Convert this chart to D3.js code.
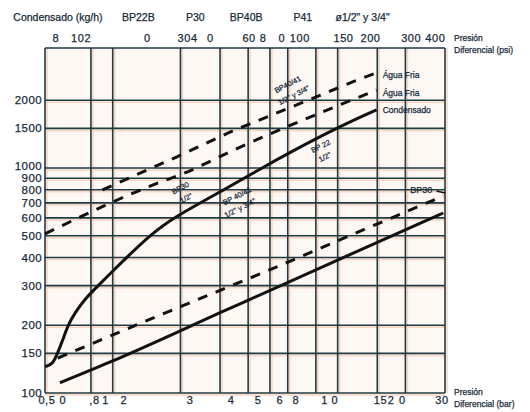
<!DOCTYPE html>
<html>
<head>
<meta charset="utf-8">
<script src="https://cdn.jsdelivr.net/npm/d3@7"></script>
<style>
  body { margin: 0; background: #fff; }
  text { font-family: "Liberation Sans", Arial, sans-serif; fill: #172a38; stroke: #172a38; stroke-width: 0.25px; }
</style>
</head>
<body>
<div id="chart"></div>
<script>
// grid values
var barLines = [0.5, 0.8, 1, 2, 3, 4, 5, 6, 8, 10, 15, 20, 30];
var kgLines = [100, 150, 200, 300, 400, 500, 600, 700, 800, 900, 1000, 1500, 2000];
var kgLabels = ["100", "150", "200", "300", "400", "500", "600", "700", "800", "900", "1000", "1500", "2000"];

// bottom (bar) tick labels as printed, with where they sit in bar
var barTickText = ["0,5", "0", ",8", "1", "2", "3", "4", "5", "6", "8", "1 0", "15", "2", "0", "30"];
var barTickAt = [0.51, 0.6, 0.83, 0.93, 1.12, 2.21, 3.36, 4.43, 5.54, 6.52, 9.22, 15.5, 17.3, 19.4, 29.1];

// top (psi) tick labels as printed, with where they sit in psi
var psiTickText = ["8", "102", "0", "304", "0", "60", "8", "0", "100", "150", "200", "300", "400"];
var psiTickAt = [8.1, 10.5, 20.7, 31.2, 39.4, 58.6, 67.6, 82, 98.5, 154, 203, 308, 394];

var headText = ["Condensado (kg/h)", "BP22B", "P30", "BP40B", "P41", "\u00f81/2\" y 3/4\""];
var headAt = [0.571, 1.30, 2.33, 3.92, 7.0, 12.9];

// series: [bar, kg/h]
var condensado = [[0.5, 131], [0.54, 134], [0.565, 148], [0.6, 172], [0.632, 200], [0.679, 227],
  [0.752, 262], [0.876, 305], [1.0, 348], [1.153, 400], [1.458, 500], [1.843, 600], [3.29, 823],
  [4.6, 1000], [6.07, 1166], [10.1, 1523], [14.9, 1814]];
var aguaFria1 = [[0.9, 800], [1.49, 1000], [1.92, 1119], [3.57, 1488], [4.38, 1617], [7.98, 2066],
  [11.65, 2412], [14.9, 2649]];
var aguaFria2 = [[0.5, 510], [1.63, 866], [2.04, 941], [3.47, 1205], [14.9, 2221]];
var bp30Agua = [[0.57, 143], [2.04, 244], [4.6, 341], [10.4, 483], [29.5, 751]];
var bp30Cond = [[0.583, 111], [0.97, 137], [3.2, 234], [11.2, 410], [29.5, 631]];

// rotated notes on the curves: text, bar, kg/h
var notes = [
  ["BP40/41", 6.0, 2353], ["1/2\" y 3/4\"", 6.38, 2108],
  ["BP 22", 8.4, 1251], ["1/2\"", 8.77, 1119],
  ["BP30", 2.0, 816], ["1/2\"", 2.12, 735],
  ["BP 40/41", 3.57, 751], ["1/2\" y 3/4\"", 3.68, 664]
];

function draw() {
  var W = 530, H = 412;
  var pl = 45, pr = 445, pt = 48, pb = 393;

  var svg = d3.select("#chart").append("svg")
      .attr("width", W)
      .attr("height", H);

  var x = d3.scaleLog().domain([0.5, 30]).range([pl, pr]);
  var y = d3.scaleLog().domain([100, 3415]).range([pb, pt]);
  var psiPerBar = 14.5038;

  // plot paper
  svg.append("rect")
      .attr("x", pl).attr("y", pt)
      .attr("width", pr - pl).attr("height", pb - pt)
      .attr("fill", "#fef8f5");

  var grid = svg.append("g");

  // orange halo offset behind the grid, like the print
  grid.selectAll(".hv").data(barLines).enter().append("line")
      .attr("x1", function(d) { return x(d) + 2; })
      .attr("x2", function(d) { return x(d) + 2; })
      .attr("y1", pt).attr("y2", pb)
      .attr("stroke", "#f8d3c0").attr("stroke-width", 1.5);
  grid.selectAll(".hh").data(kgLines).enter().append("line")
      .attr("x1", pl).attr("x2", pr)
      .attr("y1", function(d) { return y(d) + 2; })
      .attr("y2", function(d) { return y(d) + 2; })
      .attr("stroke", "#f8d3c0").attr("stroke-width", 1.5);

  grid.selectAll(".v").data(barLines).enter().append("line")
      .attr("x1", function(d) { return x(d); })
      .attr("x2", function(d) { return x(d); })
      .attr("y1", pt).attr("y2", pb)
      .attr("stroke", "#1d3a40").attr("stroke-width", 1.6);
  grid.selectAll(".h").data(kgLines).enter().append("line")
      .attr("x1", pl).attr("x2", pr)
      .attr("y1", function(d) { return y(d); })
      .attr("y2", function(d) { return y(d); })
      .attr("stroke", "#1d3a40").attr("stroke-width", 1.6);
  grid.append("line")
      .attr("x1", pl).attr("x2", pr).attr("y1", pt).attr("y2", pt)
      .attr("stroke", "#1d3a40").attr("stroke-width", 1.6);

  // y labels
  svg.selectAll(".yl").data(kgLines).enter().append("text")
      .attr("x", pl - 3)
      .attr("y", function(d, i) { return y(d) + (d == 1000 ? -2 : 0); })
      .attr("dy", "0.35em")
      .attr("text-anchor", "end")
      .attr("font-size", 11.5)
      .attr("letter-spacing", 0.4)
      .text(function(d, i) { return kgLabels[i]; });

  // bottom labels
  svg.selectAll(".bl").data(barTickText).enter().append("text")
      .attr("x", function(d, i) { return x(barTickAt[i]); })
      .attr("y", 404)
      .attr("text-anchor", "middle")
      .attr("font-size", 11)
      .attr("letter-spacing", 0.6)
      .text(function(d) { return d; });

  // top labels
  svg.selectAll(".tl").data(psiTickText).enter().append("text")
      .attr("x", function(d, i) { return x(psiTickAt[i] / psiPerBar); })
      .attr("y", 42)
      .attr("text-anchor", "middle")
      .attr("font-size", 11)
      .attr("letter-spacing", 0.6)
      .text(function(d) { return d; });

  svg.selectAll(".hd").data(headText).enter().append("text")
      .attr("x", function(d, i) { return x(headAt[i]); })
      .attr("y", 21)
      .attr("text-anchor", "middle")
      .attr("font-size", 10.5)
      .text(function(d) { return d; });

  // axis titles
  [["Presi\u00f3n", 41], ["Diferencial (psi)", 53], ["Presi\u00f3n", 395], ["Diferencial (bar)", 407]]
    .forEach(function(t) {
      svg.append("text")
          .attr("x", 454).attr("y", t[1])
          .attr("font-size", 8.5)
          .text(t[0]);
    });

  // curves
  function curve(data, dashed, shape) {
    var line = d3.line()
        .x(function(d) { return x(d[0]); })
        .y(function(d) { return y(d[1]); })
        .curve(shape || d3.curveMonotoneX);
    svg.append("path")
        .datum(data)
        .attr("d", line)
        .attr("fill", "none")
        .attr("stroke", "#121212")
        .attr("stroke-width", 3)
        .attr("stroke-dasharray", dashed ? "10,9" : null);
  }

  curve(condensado, false, d3.curveBasis);
  curve(aguaFria1, true);
  curve(aguaFria2, true);
  curve(bp30Agua, true);
  curve(bp30Cond, false);

  // end labels
  function endLabel(data, txt, dy) {
    var p = data[data.length - 1];
    svg.append("text")
        .attr("x", x(p[0]) + 6)
        .attr("y", y(p[1]) + dy)
        .attr("dy", "0.35em")
        .attr("font-size", 8.5)
        .text(txt);
  }
  endLabel(aguaFria1, "\u00c1gua Fria", 2);
  endLabel(aguaFria2, "\u00c1gua Fria", 3);
  endLabel(condensado, "Condensado", 0);

  // BP30 tag with its leader
  svg.append("text")
      .attr("x", x(21)).attr("y", y(798))
      .attr("dy", "0.35em")
      .attr("font-size", 9)
      .text("BP30");
  svg.append("line")
      .attr("x1", x(27.5)).attr("x2", x(30))
      .attr("y1", y(790)).attr("y2", y(775))
      .attr("stroke", "#121212").attr("stroke-width", 1.5);

  svg.selectAll(".note").data(notes).enter().append("text")
      .attr("transform", function(d) { return "translate(" + x(d[1]) + "," + y(d[2]) + ") rotate(-27)"; })
      .attr("text-anchor", "middle")
      .attr("dy", "0.35em")
      .attr("font-size", 7.5)
      .text(function(d) { return d[0]; });
}

draw();
</script>
</body>
</html>
